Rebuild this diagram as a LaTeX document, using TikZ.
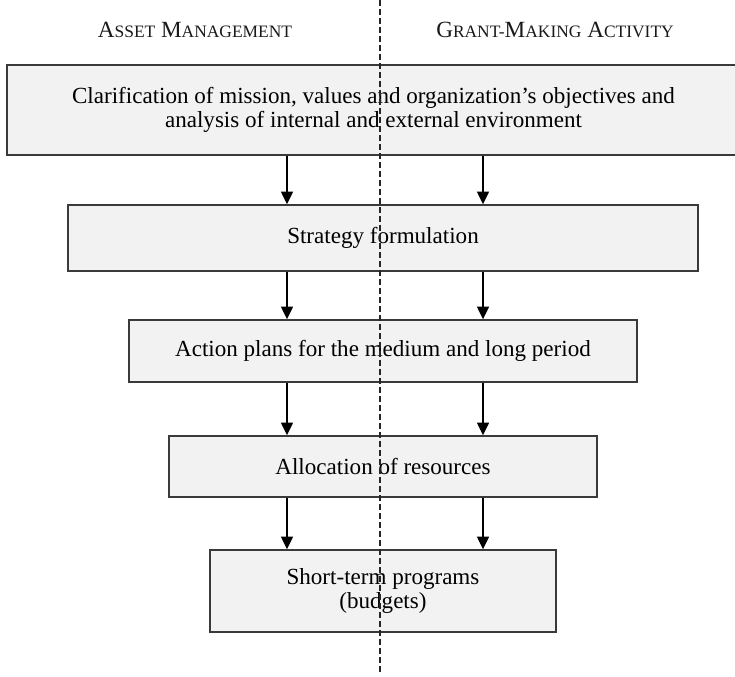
\documentclass[tikz,border=0pt]{standalone}
\usepackage{fontspec}
\setmainfont{Liberation Serif}
\usepackage{xcolor}
\usetikzlibrary{arrows.meta, positioning}

\definecolor{boxfill}{HTML}{F2F2F2}
\definecolor{boxline}{HTML}{3A3A3A}
\newcommand{\fakesc}[2]{{\fontsize{16.5}{18}\selectfont #1}{\fontsize{12.4}{14}\selectfont #2}}

\begin{document}
\begin{tikzpicture}[
    x=0.025cm, y=-0.025cm,
    font=\fontsize{16.4}{17.3}\selectfont,
    stage/.style={draw=boxline, fill=boxfill, line width=1pt, inner sep=0pt, align=center},
    head/.style={text=black!90, inner sep=0pt},
    arrow/.style={-{Triangle[length=9pt, width=8.5pt]}, line width=1pt, draw=black},
    divider/.style={draw=black!85, line width=1.4pt, dash pattern=on 4pt off 2.4pt}
  ]
    \useasboundingbox (0,0) rectangle (735,676);

    % Column headings
    \node[head] (am) at (195, 30) {\fakesc{A}{SSET} \fakesc{M}{ANAGEMENT}};
    \node[head] (gm) at (555, 30) {\fakesc{G}{RANT-}\fakesc{M}{AKING} \fakesc{A}{CTIVITY}};

    % Stage boxes
    \node[stage, minimum width=18.325cm, minimum height=2.25cm] (clar) at (373.5, 110) {Clarification of mission, values and organization’s objectives and\\analysis of internal and external environment};
    \node[stage, minimum width=15.75cm, minimum height=1.65cm] (strat) at (383, 238) {Strategy formulation};
    \node[stage, minimum width=12.7cm, minimum height=1.55cm] (plans) at (383, 351) {Action plans for the medium and long period};
    \node[stage, minimum width=10.7cm, minimum height=1.525cm] (alloc) at (383, 466.5) {Allocation of resources};
    \node[stage, minimum width=8.65cm, minimum height=2.05cm] (progs) at (383, 591) {Short-term programs\\(budgets)};

    % Arrow columns and divider ends
    \coordinate (colL) at (287, 0);
    \coordinate (colR) at (483, 0);
    \coordinate (divtop) at (380, 0);
    \coordinate (divbot) at (380, 674);

    \draw[arrow] (clar.south -| colL) -- (strat.north -| colL);
    \draw[arrow] (clar.south -| colR) -- (strat.north -| colR);
    \draw[arrow] (strat.south -| colL) -- (plans.north -| colL);
    \draw[arrow] (strat.south -| colR) -- (plans.north -| colR);
    \draw[arrow] (plans.south -| colL) -- (alloc.north -| colL);
    \draw[arrow] (plans.south -| colR) -- (alloc.north -| colR);
    \draw[arrow] (alloc.south -| colL) -- (progs.north -| colL);
    \draw[arrow] (alloc.south -| colR) -- (progs.north -| colR);

    % Dashed divider
    \draw[divider] (divtop) -- (divbot);
  \end{tikzpicture}
\end{document}
